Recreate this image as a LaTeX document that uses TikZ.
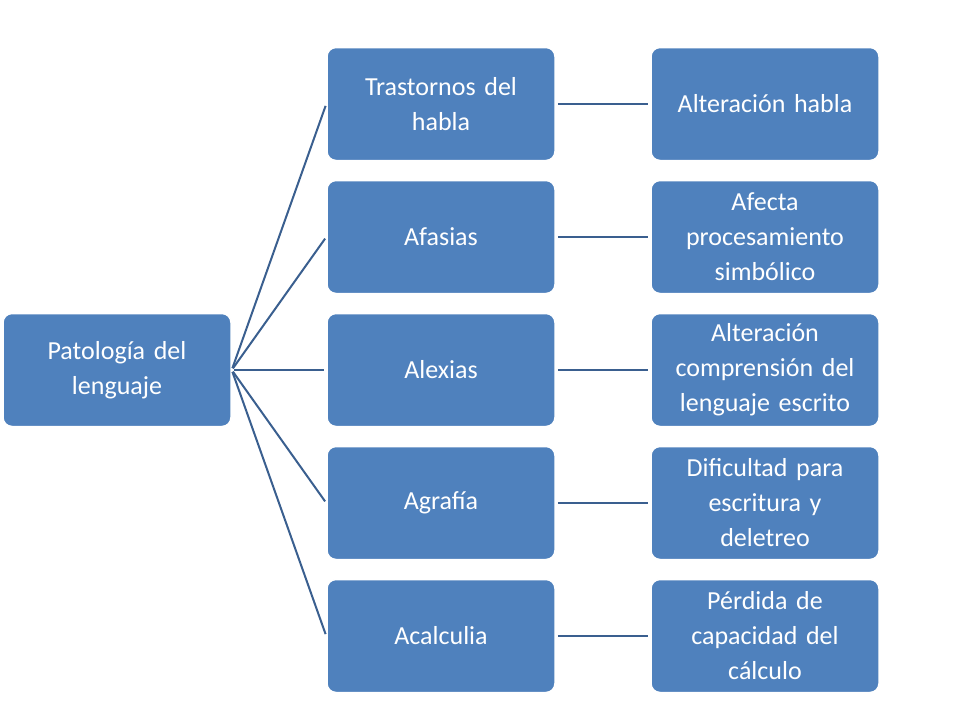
\documentclass[tikz,border=0pt]{standalone}
\usepackage{fontspec}
\setmainfont{Carlito}
\usetikzlibrary{positioning}
\definecolor{boxblue}{HTML}{4F81BD}
\definecolor{linkblue}{HTML}{3A5F8F}
\tikzset{
  topic/.style={draw=white, line width=1.5pt, fill=boxblue, rounded corners=9pt,
    minimum width=228pt, minimum height=113pt, text width=215pt, align=center,
    text=white, font=\fontsize{26}{35}\selectfont, inner sep=0pt},
  link/.style={draw=linkblue, line width=2pt}
}
\begin{document}
\begin{tikzpicture}[x=1pt,y=-1pt]
  \useasboundingbox (0,0) rectangle (960,720);
  % root
  \node[topic] (root) at (117,370) {Patología del\\lenguaje};
  % middle column
  \node[topic] (habla) at (441,104) {Trastornos del\\habla};
  \node[topic] (afasias) at (441,237) {Afasias};
  \node[topic] (alexias) at (441,370) {Alexias};
  \node[topic] (agrafia) at (441,503) {Agrafía};
  \node[topic] (acalculia) at (441,636) {Acalculia};
  % right column
  \node[topic] (dhabla) at (765,104) {Alteración habla};
  \node[topic] (dafasias) at (765,237) {Afecta\\procesamiento\\simbólico};
  \node[topic] (dalexias) at (765,370) {Alteración\\comprensión del\\lenguaje escrito};
  \node[topic] (dagrafia) at (765,503) {Dificultad para\\escritura y\\deletreo};
  \node[topic] (dacalculia) at (765,636) {Pérdida de\\capacidad del\\cálculo};
  % connectors
  \foreach \m/\d in {habla/dhabla, afasias/dafasias, alexias/dalexias, agrafia/dagrafia, acalculia/dacalculia} {
    \draw[link, shorten <=2pt, shorten >=2pt] (root.east) -- (\m.west);
    \draw[link, shorten <=2pt, shorten >=2pt] (\m.east) -- (\d.west);
  }
\end{tikzpicture}
\end{document}
